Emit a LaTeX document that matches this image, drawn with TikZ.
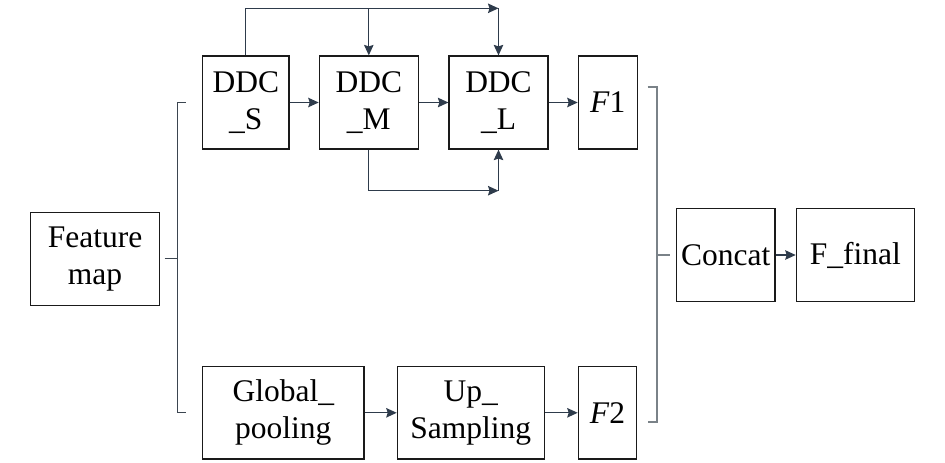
\documentclass[tikz,border=0pt]{standalone}
\usepackage{fontspec}
\setmainfont{Liberation Serif}
\usetikzlibrary{arrows.meta}
\definecolor{boxc}{HTML}{1A1A1A}
\definecolor{arrc}{HTML}{2E3B4B}
\definecolor{brl}{HTML}{3B4550}
\definecolor{brr}{HTML}{7A8288}
\begin{document}
\begin{tikzpicture}[x=1pt,y=-1pt,
  blk/.style={draw=boxc,line width=1.2pt,inner sep=0pt,align=center,
    font=\fontsize{31.5}{37}\selectfont,text=black},
  conn/.style={draw=arrc,line width=1.2pt},
  arr/.style={conn,-{Stealth[length=10.5pt,width=9.5pt,inset=1.5pt]}},
  brkl/.style={draw=brl,line width=1.1pt},
  brkr/.style={draw=brr,line width=1.7pt}]
\useasboundingbox (0,0) rectangle (945,463);
% nodes
\node[blk,minimum width=128.6pt,minimum height=93pt] (fm) at (95,258.8) {Feature\\map};
\node[blk,minimum width=86.3pt,minimum height=93pt] (S) at (245.8,102.5) {DDC\\\_S};
\node[blk,minimum width=99pt,minimum height=93pt] (M) at (368.8,102.5) {DDC\\\_M};
\node[blk,minimum width=99pt,minimum height=93pt] (L) at (498.5,102.5) {DDC\\\_L};
\node[blk,minimum width=59pt,minimum height=93pt] (F1) at (607.8,102.5) {\textit{F}1};
\node[blk,minimum width=161.3pt,minimum height=92.3pt] (GP) at (283.3,412.8) {Global\_\\pooling};
\node[blk,minimum width=147pt,minimum height=92.3pt] (UP) at (470.8,412.8) {Up\_\\Sampling};
\node[blk,minimum width=58.4pt,minimum height=92.3pt] (F2) at (607.5,412.8) {\textit{F}2};
\node[blk,minimum width=98.7pt,minimum height=92.6pt] (C) at (725.7,255) {Concat};
\node[blk,minimum width=118pt,minimum height=92.6pt] (FF) at (855.3,255) {F\_final};
% coordinates
\coordinate (top) at (498.5,8.3);
\coordinate (bot) at (498.5,190.7);
\coordinate (lbt) at (177.3,102.7);
\coordinate (lbb) at (177.3,412.3);
\coordinate (lbm) at (177.3,258.8);
\coordinate (rbt) at (656.7,87.3);
\coordinate (rbb) at (656.7,422.3);
\coordinate (rbm) at (656.7,255);
% horizontal arrows
\draw[arr] (S) -- (M);
\draw[arr] (M) -- (L);
\draw[arr] (L) -- (F1);
\draw[arr] (GP) -- (UP);
\draw[arr] (UP) -- (F2);
\draw[arr] (C) -- (FF);
% skip connections
\draw[arr] (S.north) |- (top);
\draw[arr] (M.north |- top) -- (M.north);
\draw[arr] (top) -- (L.north);
\draw[arr] (M.south) |- (bot);
\draw[arr] (bot) -- (L.south);
% left bracket
\draw[brkl] ([xshift=8.4pt]lbt) -- (lbt) -- (lbb) -- ([xshift=8.4pt]lbb);
\draw[brkl] (fm.east -| 164.7,0) -- (lbm);
% right bracket
\draw[brkr] ([xshift=-9pt]rbt) -- (rbt) -- (rbb) -- ([xshift=-9pt]rbb);
\draw[brkr] (rbm) -- ([xshift=13.3pt]rbm);
\end{tikzpicture}
\end{document}
